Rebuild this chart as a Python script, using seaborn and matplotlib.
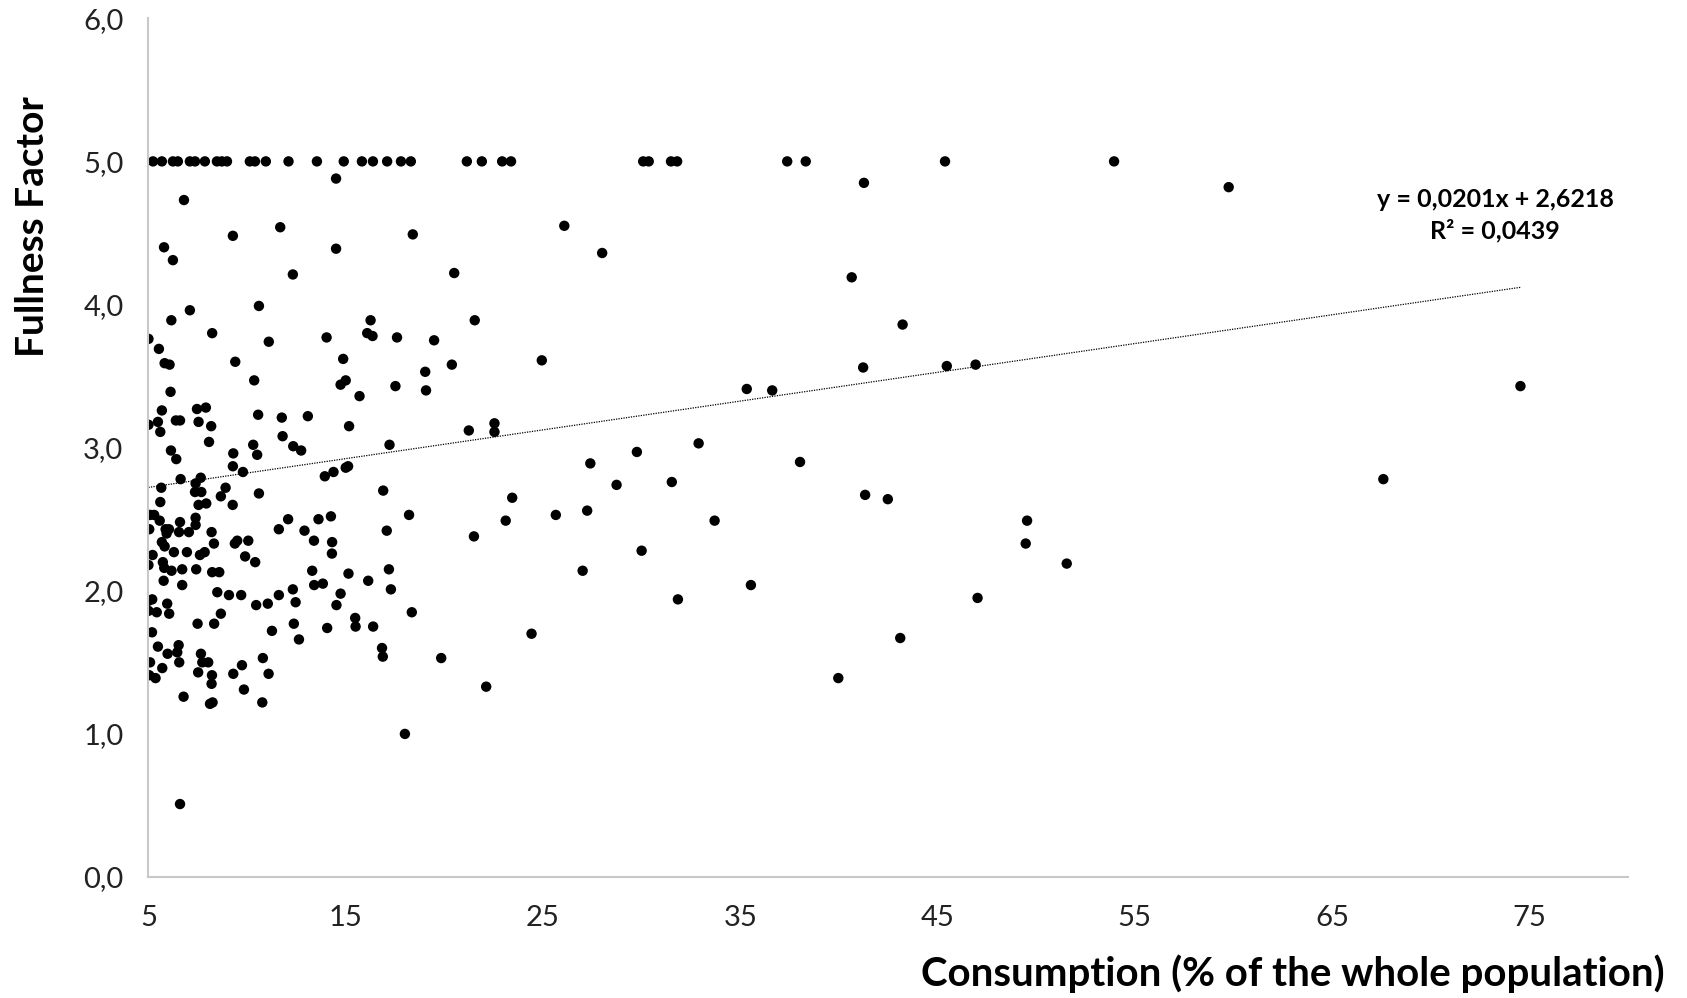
import numpy as np
import pandas as pd
import matplotlib
matplotlib.use("Agg")
import matplotlib.pyplot as plt
import seaborn as sns

# points on the 5,0 ceiling
top_x = [5.23, 5.68, 6.24, 6.49, 7.1, 7.36, 7.86, 8.47, 8.72, 8.98, 10.14, 10.4,
         10.95, 12.1, 13.54, 14.9, 15.82, 16.38, 17.1, 17.8, 18.3, 21.14, 21.9,
         22.93, 23.38, 30.08, 30.36, 31.49, 31.8, 37.38, 38.32, 45.38, 53.95]
top_y = [5.0] * len(top_x)

# upper band
upper_x = [14.51, 6.8, 11.68, 9.28, 18.4, 5.79, 6.24, 14.51, 12.32, 20.5, 10.6, 7.1,
           6.16, 16.26, 21.54, 8.23, 5.0, 11.1, 14.03, 16.09, 16.36, 17.6, 19.48, 5.53,
           9.4, 5.82, 6.07, 14.87, 19.03, 20.38, 10.36, 14.74, 15.0, 17.52, 19.07, 6.12]
upper_y = [4.88, 4.73, 4.54, 4.48, 4.49, 4.40, 4.31, 4.39, 4.21, 4.22, 3.99, 3.96,
           3.89, 3.89, 3.89, 3.80, 3.76, 3.74, 3.77, 3.80, 3.78, 3.77, 3.75, 3.69,
           3.60, 3.59, 3.58, 3.62, 3.53, 3.58, 3.47, 3.44, 3.47, 3.43, 3.40, 3.39]

# middle band (x < 24)
mid_x = [15.7, 5.68, 7.46, 7.91, 5.0, 5.48, 6.39, 6.6, 7.54, 8.18, 10.56, 11.76, 13.08,
         5.6, 15.17, 21.24, 22.54, 22.54, 8.07, 11.8, 10.31, 10.51, 12.34, 12.74, 17.22,
         6.14, 6.41, 9.3, 9.28, 9.79, 13.94, 14.38, 15.0, 15.12, 6.63, 7.65, 7.39, 7.36,
         7.68, 5.65, 8.91, 8.67, 10.6, 16.9, 5.6, 7.54, 7.93, 9.27, 5.08, 5.29, 5.57,
         5.04, 6.6, 7.39, 7.39, 5.87, 6.04, 5.92, 6.55, 7.05, 8.2, 12.08, 13.62, 14.25,
         18.21, 11.61, 12.91, 17.08, 23.11, 5.68, 5.82, 8.32, 9.38, 9.5, 10.06, 13.39,
         14.31, 14.3, 21.5, 5.21, 6.29, 6.95, 7.61, 7.85, 9.9, 10.41, 5.0, 5.73, 5.8,
         6.17, 6.71, 7.42, 8.23, 8.59, 13.3, 15.14, 16.14, 17.19, 17.29, 5.77, 6.71,
         13.4, 13.84, 14.74, 8.49, 9.08, 9.7, 11.61, 12.32, 12.46, 5.0, 5.19, 5.0, 5.42,
         5.95, 6.05, 7.49, 8.33, 8.67, 10.46, 11.05, 14.53, 18.35, 15.48, 15.5, 16.39,
         14.06, 12.37, 11.26, 5.18, 12.63]
mid_y = [3.36, 3.26, 3.27, 3.28, 3.16, 3.18, 3.19, 3.19, 3.18, 3.15, 3.23, 3.21, 3.22,
         3.11, 3.15, 3.12, 3.17, 3.11, 3.04, 3.08, 3.02, 2.95, 3.01, 2.98, 3.02,
         2.98, 2.92, 2.96, 2.87, 2.83, 2.80, 2.83, 2.86, 2.87, 2.78, 2.79, 2.75, 2.69,
         2.69, 2.72, 2.72, 2.66, 2.68, 2.70, 2.62, 2.60, 2.61, 2.60, 2.53, 2.53, 2.49,
         2.43, 2.48, 2.51, 2.46, 2.43, 2.43, 2.40, 2.41, 2.41, 2.41, 2.50, 2.50, 2.52,
         2.53, 2.43, 2.42, 2.42, 2.49, 2.34, 2.31, 2.33, 2.33, 2.35, 2.35, 2.35,
         2.34, 2.26, 2.38, 2.25, 2.27, 2.27, 2.25, 2.27, 2.24, 2.20, 2.18, 2.20, 2.16,
         2.14, 2.15, 2.15, 2.13, 2.13, 2.14, 2.12, 2.07, 2.15, 2.01, 2.07, 2.04,
         2.04, 2.05, 1.98, 1.99, 1.97, 1.97, 1.97, 2.01, 1.92, 1.93, 1.94, 1.86, 1.85,
         1.91, 1.84, 1.77, 1.77, 1.84, 1.90, 1.91, 1.90, 1.85, 1.81, 1.75, 1.75,
         1.74, 1.77, 1.72, 1.71, 1.66]

# lower band
low_x = [5.48, 6.53, 6.46, 5.97, 7.66, 7.73, 8.03, 5.08, 5.7, 6.56, 5.04, 5.36, 7.52,
         8.22, 8.2, 9.3, 9.74, 10.8, 11.09, 9.84, 10.77, 8.12, 8.25, 6.78, 16.84, 16.88,
         19.84, 22.12, 18.0, 6.6]
low_y = [1.61, 1.62, 1.57, 1.56, 1.56, 1.50, 1.50, 1.50, 1.46, 1.50, 1.41, 1.39, 1.43,
         1.41, 1.35, 1.42, 1.48, 1.53, 1.42, 1.31, 1.22, 1.21, 1.22, 1.26, 1.60, 1.54,
         1.53, 1.33, 1.00, 0.51]

# sparse right part
right_x = [41.27, 26.08, 28.0, 40.65, 43.23, 24.94, 41.23, 45.47, 46.93, 35.33, 36.62,
           32.89, 29.76, 27.4, 38.03, 28.73, 31.53, 23.44, 41.33, 42.48, 27.24, 25.65,
           33.7, 49.54, 49.47, 30.0, 27.01, 35.54, 31.84, 47.03, 24.42, 43.11, 39.97,
           59.76, 74.55, 67.6, 51.55]
right_y = [4.85, 4.55, 4.36, 4.19, 3.86, 3.61, 3.56, 3.57, 3.58, 3.41, 3.40,
           3.03, 2.97, 2.89, 2.90, 2.74, 2.76, 2.65, 2.67, 2.64, 2.56, 2.53,
           2.49, 2.49, 2.33, 2.28, 2.14, 2.04, 1.94, 1.95, 1.70, 1.67, 1.39,
           4.82, 3.43, 2.78, 2.19]

slope, intercept, r2 = 0.0201, 2.6218, 0.0439

x_ticks = [5, 15, 25, 35, 45, 55, 65, 75]
y_ticks = [0, 1, 2, 3, 4, 5, 6]

df = pd.DataFrame({
    "consumption": top_x + upper_x + mid_x + low_x + right_x,
    "fullness": top_y + upper_y + mid_y + low_y + right_y,
})

sns.set_style("white")
plt.rcParams["font.family"] = ["Lato", "DejaVu Sans"]

fig = plt.figure(figsize=(16.87, 9.98), dpi=100)
ax = fig.add_axes([0.088, 0.1212, 0.877, 0.8605])

sns.scatterplot(data=df, x="consumption", y="fullness", ax=ax,
                color="black", s=56, edgecolor="none", linewidth=0)

# linear trend line over the data range
xl = np.array([df["consumption"].min(), df["consumption"].max()])
ax.plot(xl, slope * xl + intercept, color="black", linestyle=(0, (1, 1)), linewidth=0.9)

ax.text(1495 / 1687, 1 - 215 / 998,
        f"y = {slope:.4f}x + {intercept:.4f}\nR² = {r2:.4f}".replace(".", ","),
        transform=fig.transFigure, ha="center", va="center", color="black",
        fontsize=18, fontweight="bold", linespacing=1.4)

ax.set_xlim(5, 80)
ax.set_ylim(0, 6)
ax.set_xticks(x_ticks)
ax.set_xticklabels([str(t) for t in x_ticks])
ax.set_yticks(y_ticks)
ax.set_yticklabels([f"{t:.1f}".replace(".", ",") for t in y_ticks])
ax.tick_params(axis="both", length=0, labelsize=21, colors="#222222")
ax.tick_params(axis="x", pad=20)
ax.tick_params(axis="y", pad=18)

for side in ["top", "right"]:
    ax.spines[side].set_visible(False)
for side in ["left", "bottom"]:
    ax.spines[side].set_color("#c8c8c8")
    ax.spines[side].set_linewidth(1.5)

ax.set_xlabel("Consumption (% of the whole population)", fontsize=29,
              fontweight="bold", ha="right", va="center", color="black")
ax.xaxis.set_label_coords(1.0246, -0.113)
ax.set_ylabel("Fullness Factor", fontsize=28, fontweight="bold",
              ha="center", va="center", color="black")
ax.yaxis.set_label_coords(-0.0787, 0.757)

fig.savefig("out.png", dpi=100)
